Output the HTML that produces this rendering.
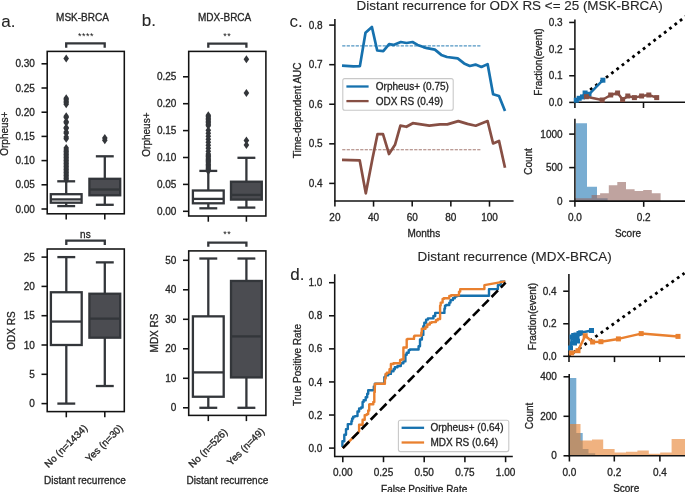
<!DOCTYPE html>
<html><head><meta charset="utf-8"><style>
html,body{margin:0;padding:0;background:#fff;overflow:hidden;}
svg{display:block;font-family:"Liberation Sans",sans-serif;will-change:transform;}
text{stroke:#262626;stroke-width:0.3px;}
</style></head><body>
<svg width="685" height="492" viewBox="0 0 685 492">
<rect width="685" height="492" fill="#fff"/>
<text x="1.30" y="27.00" font-size="17" text-anchor="start" fill="#262626" style="stroke-width:0.1px">a.</text>
<text x="141.80" y="26.40" font-size="17" text-anchor="start" fill="#262626" style="stroke-width:0.1px">b.</text>
<text x="289.60" y="27.00" font-size="17" text-anchor="start" fill="#262626" style="stroke-width:0px">c.</text>
<text x="290.20" y="279.80" font-size="17" text-anchor="start" fill="#262626" style="stroke-width:0.1px">d.</text>
<text x="82.50" y="20.80" font-size="10" text-anchor="middle" fill="#262626" >MSK-BRCA</text>
<text x="224.60" y="20.70" font-size="10" text-anchor="middle" fill="#262626" >MDX-BRCA</text>
<text x="356.60" y="9.70" font-size="13.45" text-anchor="start" fill="#262626" style="stroke-width:0.12px">Distant recurrence for ODX RS &lt;= 25 (MSK-BRCA)</text>
<text x="417.60" y="261.00" font-size="13.45" text-anchor="start" fill="#262626" style="stroke-width:0.12px">Distant recurrence (MDX-BRCA)</text>
<rect x="47.20" y="51.40" width="77.10" height="162.40" fill="none" stroke="#121212" stroke-width="1.55"/>
<line x1="41.50" y1="209.00" x2="47.20" y2="209.00" stroke="#121212" stroke-width="1.55" />
<text x="34.90" y="212.60" font-size="10" text-anchor="end" fill="#262626" >0.00</text>
<line x1="41.50" y1="184.80" x2="47.20" y2="184.80" stroke="#121212" stroke-width="1.55" />
<text x="34.90" y="188.40" font-size="10" text-anchor="end" fill="#262626" >0.05</text>
<line x1="41.50" y1="160.60" x2="47.20" y2="160.60" stroke="#121212" stroke-width="1.55" />
<text x="34.90" y="164.20" font-size="10" text-anchor="end" fill="#262626" >0.10</text>
<line x1="41.50" y1="136.40" x2="47.20" y2="136.40" stroke="#121212" stroke-width="1.55" />
<text x="34.90" y="140.00" font-size="10" text-anchor="end" fill="#262626" >0.15</text>
<line x1="41.50" y1="112.20" x2="47.20" y2="112.20" stroke="#121212" stroke-width="1.55" />
<text x="34.90" y="115.80" font-size="10" text-anchor="end" fill="#262626" >0.20</text>
<line x1="41.50" y1="88.00" x2="47.20" y2="88.00" stroke="#121212" stroke-width="1.55" />
<text x="34.90" y="91.60" font-size="10" text-anchor="end" fill="#262626" >0.25</text>
<line x1="41.50" y1="63.80" x2="47.20" y2="63.80" stroke="#121212" stroke-width="1.55" />
<text x="34.90" y="67.40" font-size="10" text-anchor="end" fill="#262626" >0.30</text>
<line x1="66.20" y1="213.80" x2="66.20" y2="219.50" stroke="#121212" stroke-width="1.55" />
<line x1="104.80" y1="213.80" x2="104.80" y2="219.50" stroke="#121212" stroke-width="1.55" />
<text transform="translate(7.90,133.70) rotate(-90)" x="0" y="0" font-size="10" text-anchor="middle" fill="#262626">Orpheus+</text>
<polygon points="66.20,54.50 69.00,58.50 66.20,62.50 63.40,58.50" fill="#33363a"/>
<polygon points="66.20,94.20 69.00,98.20 66.20,102.20 63.40,98.20" fill="#33363a"/>
<polygon points="66.20,95.70 69.00,99.70 66.20,103.70 63.40,99.70" fill="#33363a"/>
<polygon points="66.20,97.20 69.00,101.20 66.20,105.20 63.40,101.20" fill="#33363a"/>
<polygon points="66.20,98.70 69.00,102.70 66.20,106.70 63.40,102.70" fill="#33363a"/>
<polygon points="66.20,100.20 69.00,104.20 66.20,108.20 63.40,104.20" fill="#33363a"/>
<polygon points="66.20,112.20 69.00,116.20 66.20,120.20 63.40,116.20" fill="#33363a"/>
<polygon points="66.20,113.60 69.00,117.60 66.20,121.60 63.40,117.60" fill="#33363a"/>
<polygon points="66.20,117.60 69.00,121.60 66.20,125.60 63.40,121.60" fill="#33363a"/>
<polygon points="66.20,118.80 69.00,122.80 66.20,126.80 63.40,122.80" fill="#33363a"/>
<polygon points="66.20,123.40 69.00,127.40 66.20,131.40 63.40,127.40" fill="#33363a"/>
<polygon points="66.20,124.40 69.00,128.40 66.20,132.40 63.40,128.40" fill="#33363a"/>
<polygon points="66.20,128.10 69.00,132.10 66.20,136.10 63.40,132.10" fill="#33363a"/>
<polygon points="66.20,129.20 69.00,133.20 66.20,137.20 63.40,133.20" fill="#33363a"/>
<polygon points="66.20,133.00 69.00,137.00 66.20,141.00 63.40,137.00" fill="#33363a"/>
<polygon points="66.20,134.80 69.00,138.80 66.20,142.80 63.40,138.80" fill="#33363a"/>
<polygon points="66.20,144.00 69.00,148.00 66.20,152.00 63.40,148.00" fill="#33363a"/>
<polygon points="66.20,146.00 69.00,150.00 66.20,154.00 63.40,150.00" fill="#33363a"/>
<polygon points="66.20,147.50 69.00,151.50 66.20,155.50 63.40,151.50" fill="#33363a"/>
<polygon points="66.20,149.00 69.00,153.00 66.20,157.00 63.40,153.00" fill="#33363a"/>
<polygon points="66.20,150.50 69.00,154.50 66.20,158.50 63.40,154.50" fill="#33363a"/>
<polygon points="66.20,152.00 69.00,156.00 66.20,160.00 63.40,156.00" fill="#33363a"/>
<polygon points="66.20,153.50 69.00,157.50 66.20,161.50 63.40,157.50" fill="#33363a"/>
<polygon points="66.20,155.00 69.00,159.00 66.20,163.00 63.40,159.00" fill="#33363a"/>
<polygon points="66.20,156.50 69.00,160.50 66.20,164.50 63.40,160.50" fill="#33363a"/>
<polygon points="66.20,158.00 69.00,162.00 66.20,166.00 63.40,162.00" fill="#33363a"/>
<polygon points="66.20,159.50 69.00,163.50 66.20,167.50 63.40,163.50" fill="#33363a"/>
<polygon points="66.20,161.00 69.00,165.00 66.20,169.00 63.40,165.00" fill="#33363a"/>
<polygon points="66.20,162.50 69.00,166.50 66.20,170.50 63.40,166.50" fill="#33363a"/>
<polygon points="66.20,164.00 69.00,168.00 66.20,172.00 63.40,168.00" fill="#33363a"/>
<polygon points="66.20,165.50 69.00,169.50 66.20,173.50 63.40,169.50" fill="#33363a"/>
<polygon points="66.20,167.00 69.00,171.00 66.20,175.00 63.40,171.00" fill="#33363a"/>
<polygon points="66.20,168.50 69.00,172.50 66.20,176.50 63.40,172.50" fill="#33363a"/>
<polygon points="66.20,170.00 69.00,174.00 66.20,178.00 63.40,174.00" fill="#33363a"/>
<polygon points="66.20,171.50 69.00,175.50 66.20,179.50 63.40,175.50" fill="#33363a"/>
<polygon points="66.20,173.00 69.00,177.00 66.20,181.00 63.40,177.00" fill="#33363a"/>
<polygon points="66.20,174.50 69.00,178.50 66.20,182.50 63.40,178.50" fill="#33363a"/>
<polygon points="66.20,176.00 69.00,180.00 66.20,184.00 63.40,180.00" fill="#33363a"/>
<line x1="66.20" y1="202.70" x2="66.20" y2="206.10" stroke="#33363a" stroke-width="2.3" />
<line x1="66.20" y1="194.20" x2="66.20" y2="181.30" stroke="#33363a" stroke-width="2.3" />
<line x1="58.40" y1="206.10" x2="74.00" y2="206.10" stroke="#33363a" stroke-width="2.3" stroke-linecap="square"/>
<line x1="58.40" y1="181.30" x2="74.00" y2="181.30" stroke="#33363a" stroke-width="2.3" stroke-linecap="square"/>
<rect x="50.80" y="194.20" width="30.80" height="8.50" fill="#ffffff" stroke="#33363a" stroke-width="2.3"/>
<line x1="50.80" y1="199.40" x2="81.60" y2="199.40" stroke="#33363a" stroke-width="2.3" />
<polygon points="104.80,133.90 107.60,137.90 104.80,141.90 102.00,137.90" fill="#33363a"/>
<polygon points="104.80,136.30 107.60,140.30 104.80,144.30 102.00,140.30" fill="#33363a"/>
<line x1="104.80" y1="195.30" x2="104.80" y2="204.80" stroke="#33363a" stroke-width="2.3" />
<line x1="104.80" y1="178.80" x2="104.80" y2="156.30" stroke="#33363a" stroke-width="2.3" />
<line x1="97.00" y1="204.80" x2="112.60" y2="204.80" stroke="#33363a" stroke-width="2.3" stroke-linecap="square"/>
<line x1="97.00" y1="156.30" x2="112.60" y2="156.30" stroke="#33363a" stroke-width="2.3" stroke-linecap="square"/>
<rect x="89.40" y="178.80" width="30.80" height="16.50" fill="#4b4c51" stroke="#33363a" stroke-width="2.3"/>
<line x1="89.40" y1="189.50" x2="120.20" y2="189.50" stroke="#33363a" stroke-width="2.3" />
<text x="86.00" y="38.60" font-size="9" text-anchor="middle" fill="#111" style="stroke:none;letter-spacing:0.55px">****</text>
<polyline points="66.2,47.8 66.2,43.4 104.7,43.4 104.7,47.8" fill="none" stroke="#33363a" stroke-width="2.3"/>
<rect x="47.20" y="249.00" width="77.10" height="162.60" fill="none" stroke="#121212" stroke-width="1.55"/>
<line x1="41.50" y1="403.60" x2="47.20" y2="403.60" stroke="#121212" stroke-width="1.55" />
<text x="34.90" y="407.20" font-size="10" text-anchor="end" fill="#262626" >0</text>
<line x1="41.50" y1="374.30" x2="47.20" y2="374.30" stroke="#121212" stroke-width="1.55" />
<text x="34.90" y="377.90" font-size="10" text-anchor="end" fill="#262626" >5</text>
<line x1="41.50" y1="345.00" x2="47.20" y2="345.00" stroke="#121212" stroke-width="1.55" />
<text x="34.90" y="348.60" font-size="10" text-anchor="end" fill="#262626" >10</text>
<line x1="41.50" y1="315.70" x2="47.20" y2="315.70" stroke="#121212" stroke-width="1.55" />
<text x="34.90" y="319.30" font-size="10" text-anchor="end" fill="#262626" >15</text>
<line x1="41.50" y1="286.40" x2="47.20" y2="286.40" stroke="#121212" stroke-width="1.55" />
<text x="34.90" y="290.00" font-size="10" text-anchor="end" fill="#262626" >20</text>
<line x1="41.50" y1="257.10" x2="47.20" y2="257.10" stroke="#121212" stroke-width="1.55" />
<text x="34.90" y="260.70" font-size="10" text-anchor="end" fill="#262626" >25</text>
<line x1="66.30" y1="411.60" x2="66.30" y2="417.30" stroke="#121212" stroke-width="1.55" />
<line x1="104.80" y1="411.60" x2="104.80" y2="417.30" stroke="#121212" stroke-width="1.55" />
<text transform="translate(15.20,330.50) rotate(-90)" x="0" y="0" font-size="10" text-anchor="middle" fill="#262626">ODX RS</text>
<line x1="66.30" y1="345.00" x2="66.30" y2="403.60" stroke="#33363a" stroke-width="2.3" />
<line x1="66.30" y1="292.26" x2="66.30" y2="257.10" stroke="#33363a" stroke-width="2.3" />
<line x1="58.50" y1="403.60" x2="74.10" y2="403.60" stroke="#33363a" stroke-width="2.3" stroke-linecap="square"/>
<line x1="58.50" y1="257.10" x2="74.10" y2="257.10" stroke="#33363a" stroke-width="2.3" stroke-linecap="square"/>
<rect x="50.90" y="292.26" width="30.80" height="52.74" fill="#ffffff" stroke="#33363a" stroke-width="2.3"/>
<line x1="50.90" y1="321.56" x2="81.70" y2="321.56" stroke="#33363a" stroke-width="2.3" />
<line x1="104.80" y1="337.68" x2="104.80" y2="386.02" stroke="#33363a" stroke-width="2.3" />
<line x1="104.80" y1="293.73" x2="104.80" y2="262.37" stroke="#33363a" stroke-width="2.3" />
<line x1="97.00" y1="386.02" x2="112.60" y2="386.02" stroke="#33363a" stroke-width="2.3" stroke-linecap="square"/>
<line x1="97.00" y1="262.37" x2="112.60" y2="262.37" stroke="#33363a" stroke-width="2.3" stroke-linecap="square"/>
<rect x="89.40" y="293.73" width="30.80" height="43.95" fill="#4b4c51" stroke="#33363a" stroke-width="2.3"/>
<line x1="89.40" y1="318.63" x2="120.20" y2="318.63" stroke="#33363a" stroke-width="2.3" />
<text x="85.40" y="238.00" font-size="10" text-anchor="middle" fill="#262626" >ns</text>
<polyline points="66.3,245.0 66.3,240.6 104.8,240.6 104.8,245.0" fill="none" stroke="#33363a" stroke-width="2.3"/>
<text transform="translate(65.90,446.00) rotate(-45)" x="0" y="3.50" font-size="10" text-anchor="middle" fill="#262626">No (n=1434)</text>
<text transform="translate(104.10,443.20) rotate(-45)" x="0" y="3.50" font-size="10" text-anchor="middle" fill="#262626">Yes (n=30)</text>
<text x="84.90" y="483.80" font-size="10" text-anchor="middle" fill="#262626" >Distant recurrence</text>
<rect x="188.70" y="51.40" width="77.20" height="164.60" fill="none" stroke="#121212" stroke-width="1.55"/>
<line x1="183.00" y1="211.30" x2="188.70" y2="211.30" stroke="#121212" stroke-width="1.55" />
<text x="176.40" y="214.90" font-size="10" text-anchor="end" fill="#262626" >0.00</text>
<line x1="183.00" y1="184.40" x2="188.70" y2="184.40" stroke="#121212" stroke-width="1.55" />
<text x="176.40" y="188.00" font-size="10" text-anchor="end" fill="#262626" >0.05</text>
<line x1="183.00" y1="157.50" x2="188.70" y2="157.50" stroke="#121212" stroke-width="1.55" />
<text x="176.40" y="161.10" font-size="10" text-anchor="end" fill="#262626" >0.10</text>
<line x1="183.00" y1="130.60" x2="188.70" y2="130.60" stroke="#121212" stroke-width="1.55" />
<text x="176.40" y="134.20" font-size="10" text-anchor="end" fill="#262626" >0.15</text>
<line x1="183.00" y1="103.70" x2="188.70" y2="103.70" stroke="#121212" stroke-width="1.55" />
<text x="176.40" y="107.30" font-size="10" text-anchor="end" fill="#262626" >0.20</text>
<line x1="183.00" y1="76.80" x2="188.70" y2="76.80" stroke="#121212" stroke-width="1.55" />
<text x="176.40" y="80.40" font-size="10" text-anchor="end" fill="#262626" >0.25</text>
<line x1="208.30" y1="216.00" x2="208.30" y2="221.70" stroke="#121212" stroke-width="1.55" />
<line x1="246.40" y1="216.00" x2="246.40" y2="221.70" stroke="#121212" stroke-width="1.55" />
<text transform="translate(149.60,134.60) rotate(-90)" x="0" y="0" font-size="10" text-anchor="middle" fill="#262626">Orpheus+</text>
<polygon points="208.30,111.20 211.10,115.20 208.30,119.20 205.50,115.20" fill="#33363a"/>
<polygon points="208.30,112.70 211.10,116.70 208.30,120.70 205.50,116.70" fill="#33363a"/>
<polygon points="208.30,114.20 211.10,118.20 208.30,122.20 205.50,118.20" fill="#33363a"/>
<polygon points="208.30,115.70 211.10,119.70 208.30,123.70 205.50,119.70" fill="#33363a"/>
<polygon points="208.30,117.20 211.10,121.20 208.30,125.20 205.50,121.20" fill="#33363a"/>
<polygon points="208.30,118.70 211.10,122.70 208.30,126.70 205.50,122.70" fill="#33363a"/>
<polygon points="208.30,120.20 211.10,124.20 208.30,128.20 205.50,124.20" fill="#33363a"/>
<polygon points="208.30,121.70 211.10,125.70 208.30,129.70 205.50,125.70" fill="#33363a"/>
<polygon points="208.30,126.20 211.10,130.20 208.30,134.20 205.50,130.20" fill="#33363a"/>
<polygon points="208.30,129.20 211.10,133.20 208.30,137.20 205.50,133.20" fill="#33363a"/>
<polygon points="208.30,132.20 211.10,136.20 208.30,140.20 205.50,136.20" fill="#33363a"/>
<polygon points="208.30,135.20 211.10,139.20 208.30,143.20 205.50,139.20" fill="#33363a"/>
<polygon points="208.30,138.20 211.10,142.20 208.30,146.20 205.50,142.20" fill="#33363a"/>
<polygon points="208.30,141.20 211.10,145.20 208.30,149.20 205.50,145.20" fill="#33363a"/>
<polygon points="208.30,144.20 211.10,148.20 208.30,152.20 205.50,148.20" fill="#33363a"/>
<polygon points="208.30,147.20 211.10,151.20 208.30,155.20 205.50,151.20" fill="#33363a"/>
<polygon points="208.30,150.00 211.10,154.00 208.30,158.00 205.50,154.00" fill="#33363a"/>
<polygon points="208.30,151.30 211.10,155.30 208.30,159.30 205.50,155.30" fill="#33363a"/>
<polygon points="208.30,152.60 211.10,156.60 208.30,160.60 205.50,156.60" fill="#33363a"/>
<polygon points="208.30,153.90 211.10,157.90 208.30,161.90 205.50,157.90" fill="#33363a"/>
<polygon points="208.30,155.20 211.10,159.20 208.30,163.20 205.50,159.20" fill="#33363a"/>
<polygon points="208.30,156.50 211.10,160.50 208.30,164.50 205.50,160.50" fill="#33363a"/>
<polygon points="208.30,157.80 211.10,161.80 208.30,165.80 205.50,161.80" fill="#33363a"/>
<polygon points="208.30,159.10 211.10,163.10 208.30,167.10 205.50,163.10" fill="#33363a"/>
<polygon points="208.30,160.40 211.10,164.40 208.30,168.40 205.50,164.40" fill="#33363a"/>
<polygon points="208.30,161.70 211.10,165.70 208.30,169.70 205.50,165.70" fill="#33363a"/>
<polygon points="208.30,163.00 211.10,167.00 208.30,171.00 205.50,167.00" fill="#33363a"/>
<polygon points="208.30,164.30 211.10,168.30 208.30,172.30 205.50,168.30" fill="#33363a"/>
<polygon points="208.30,165.60 211.10,169.60 208.30,173.60 205.50,169.60" fill="#33363a"/>
<polygon points="208.30,166.90 211.10,170.90 208.30,174.90 205.50,170.90" fill="#33363a"/>
<line x1="208.30" y1="203.30" x2="208.30" y2="208.30" stroke="#33363a" stroke-width="2.3" />
<line x1="208.30" y1="190.50" x2="208.30" y2="170.90" stroke="#33363a" stroke-width="2.3" />
<line x1="200.50" y1="208.30" x2="216.10" y2="208.30" stroke="#33363a" stroke-width="2.3" stroke-linecap="square"/>
<line x1="200.50" y1="170.90" x2="216.10" y2="170.90" stroke="#33363a" stroke-width="2.3" stroke-linecap="square"/>
<rect x="192.90" y="190.50" width="30.80" height="12.80" fill="#ffffff" stroke="#33363a" stroke-width="2.3"/>
<line x1="192.90" y1="198.90" x2="223.70" y2="198.90" stroke="#33363a" stroke-width="2.3" />
<polygon points="246.40,136.50 249.20,140.50 246.40,144.50 243.60,140.50" fill="#33363a"/>
<polygon points="246.40,141.00 249.20,145.00 246.40,149.00 243.60,145.00" fill="#33363a"/>
<polygon points="246.40,55.30 249.20,59.30 246.40,63.30 243.60,59.30" fill="#33363a"/>
<polygon points="246.40,88.90 249.20,92.90 246.40,96.90 243.60,92.90" fill="#33363a"/>
<line x1="246.40" y1="199.60" x2="246.40" y2="207.60" stroke="#33363a" stroke-width="2.3" />
<line x1="246.40" y1="181.70" x2="246.40" y2="157.80" stroke="#33363a" stroke-width="2.3" />
<line x1="238.60" y1="207.60" x2="254.20" y2="207.60" stroke="#33363a" stroke-width="2.3" stroke-linecap="square"/>
<line x1="238.60" y1="157.80" x2="254.20" y2="157.80" stroke="#33363a" stroke-width="2.3" stroke-linecap="square"/>
<rect x="231.00" y="181.70" width="30.80" height="17.90" fill="#4b4c51" stroke="#33363a" stroke-width="2.3"/>
<line x1="231.00" y1="194.90" x2="261.80" y2="194.90" stroke="#33363a" stroke-width="2.3" />
<text x="227.20" y="38.60" font-size="9" text-anchor="middle" fill="#111" style="stroke:none;letter-spacing:0.55px">**</text>
<polyline points="208.3,47.8 208.3,43.6 246.4,43.6 246.4,47.8" fill="none" stroke="#33363a" stroke-width="2.3"/>
<rect x="188.70" y="250.90" width="77.20" height="164.50" fill="none" stroke="#121212" stroke-width="1.55"/>
<line x1="183.00" y1="407.80" x2="188.70" y2="407.80" stroke="#121212" stroke-width="1.55" />
<text x="176.40" y="411.40" font-size="10" text-anchor="end" fill="#262626" >0</text>
<line x1="183.00" y1="378.30" x2="188.70" y2="378.30" stroke="#121212" stroke-width="1.55" />
<text x="176.40" y="381.90" font-size="10" text-anchor="end" fill="#262626" >10</text>
<line x1="183.00" y1="348.80" x2="188.70" y2="348.80" stroke="#121212" stroke-width="1.55" />
<text x="176.40" y="352.40" font-size="10" text-anchor="end" fill="#262626" >20</text>
<line x1="183.00" y1="319.30" x2="188.70" y2="319.30" stroke="#121212" stroke-width="1.55" />
<text x="176.40" y="322.90" font-size="10" text-anchor="end" fill="#262626" >30</text>
<line x1="183.00" y1="289.80" x2="188.70" y2="289.80" stroke="#121212" stroke-width="1.55" />
<text x="176.40" y="293.40" font-size="10" text-anchor="end" fill="#262626" >40</text>
<line x1="183.00" y1="260.30" x2="188.70" y2="260.30" stroke="#121212" stroke-width="1.55" />
<text x="176.40" y="263.90" font-size="10" text-anchor="end" fill="#262626" >50</text>
<line x1="208.30" y1="415.40" x2="208.30" y2="421.10" stroke="#121212" stroke-width="1.55" />
<line x1="246.40" y1="415.40" x2="246.40" y2="421.10" stroke="#121212" stroke-width="1.55" />
<text transform="translate(157.50,333.00) rotate(-90)" x="0" y="0" font-size="10" text-anchor="middle" fill="#262626">MDX RS</text>
<line x1="208.30" y1="396.74" x2="208.30" y2="407.80" stroke="#33363a" stroke-width="2.3" />
<line x1="208.30" y1="316.35" x2="208.30" y2="258.53" stroke="#33363a" stroke-width="2.3" />
<line x1="200.50" y1="407.80" x2="216.10" y2="407.80" stroke="#33363a" stroke-width="2.3" stroke-linecap="square"/>
<line x1="200.50" y1="258.53" x2="216.10" y2="258.53" stroke="#33363a" stroke-width="2.3" stroke-linecap="square"/>
<rect x="192.90" y="316.35" width="30.80" height="80.39" fill="#ffffff" stroke="#33363a" stroke-width="2.3"/>
<line x1="192.90" y1="372.40" x2="223.70" y2="372.40" stroke="#33363a" stroke-width="2.3" />
<line x1="246.40" y1="377.42" x2="246.40" y2="407.80" stroke="#33363a" stroke-width="2.3" />
<line x1="246.40" y1="280.95" x2="246.40" y2="258.53" stroke="#33363a" stroke-width="2.3" />
<line x1="238.60" y1="407.80" x2="254.20" y2="407.80" stroke="#33363a" stroke-width="2.3" stroke-linecap="square"/>
<line x1="238.60" y1="258.53" x2="254.20" y2="258.53" stroke="#33363a" stroke-width="2.3" stroke-linecap="square"/>
<rect x="231.00" y="280.95" width="30.80" height="96.47" fill="#4b4c51" stroke="#33363a" stroke-width="2.3"/>
<line x1="231.00" y1="336.41" x2="261.80" y2="336.41" stroke="#33363a" stroke-width="2.3" />
<text x="227.20" y="237.20" font-size="9" text-anchor="middle" fill="#111" style="stroke:none;letter-spacing:0.55px">**</text>
<polyline points="208.3,246.8 208.3,242.6 246.4,242.6 246.4,246.8" fill="none" stroke="#33363a" stroke-width="2.3"/>
<text transform="translate(207.90,448.00) rotate(-45)" x="0" y="3.50" font-size="10" text-anchor="middle" fill="#262626">No (n=526)</text>
<text transform="translate(245.50,446.60) rotate(-45)" x="0" y="3.50" font-size="10" text-anchor="middle" fill="#262626">Yes (n=49)</text>
<text x="227.40" y="483.80" font-size="10" text-anchor="middle" fill="#262626" >Distant recurrence</text>
<line x1="334.90" y1="19.00" x2="334.90" y2="201.20" stroke="#121212" stroke-width="1.55" />
<line x1="334.30" y1="200.90" x2="513.60" y2="200.90" stroke="#121212" stroke-width="1.55" />
<line x1="329.20" y1="183.40" x2="334.90" y2="183.40" stroke="#121212" stroke-width="1.55" />
<text x="322.60" y="187.00" font-size="10" text-anchor="end" fill="#262626" >0.4</text>
<line x1="329.20" y1="143.83" x2="334.90" y2="143.83" stroke="#121212" stroke-width="1.55" />
<text x="322.60" y="147.43" font-size="10" text-anchor="end" fill="#262626" >0.5</text>
<line x1="329.20" y1="104.25" x2="334.90" y2="104.25" stroke="#121212" stroke-width="1.55" />
<text x="322.60" y="107.85" font-size="10" text-anchor="end" fill="#262626" >0.6</text>
<line x1="329.20" y1="64.68" x2="334.90" y2="64.68" stroke="#121212" stroke-width="1.55" />
<text x="322.60" y="68.28" font-size="10" text-anchor="end" fill="#262626" >0.7</text>
<line x1="329.20" y1="25.10" x2="334.90" y2="25.10" stroke="#121212" stroke-width="1.55" />
<text x="322.60" y="28.70" font-size="10" text-anchor="end" fill="#262626" >0.8</text>
<line x1="334.90" y1="200.90" x2="334.90" y2="206.60" stroke="#121212" stroke-width="1.55" />
<text x="334.90" y="220.80" font-size="10" text-anchor="middle" fill="#262626" >20</text>
<line x1="373.55" y1="200.90" x2="373.55" y2="206.60" stroke="#121212" stroke-width="1.55" />
<text x="373.55" y="220.80" font-size="10" text-anchor="middle" fill="#262626" >40</text>
<line x1="412.20" y1="200.90" x2="412.20" y2="206.60" stroke="#121212" stroke-width="1.55" />
<text x="412.20" y="220.80" font-size="10" text-anchor="middle" fill="#262626" >60</text>
<line x1="450.85" y1="200.90" x2="450.85" y2="206.60" stroke="#121212" stroke-width="1.55" />
<text x="450.85" y="220.80" font-size="10" text-anchor="middle" fill="#262626" >80</text>
<line x1="489.50" y1="200.90" x2="489.50" y2="206.60" stroke="#121212" stroke-width="1.55" />
<text x="489.50" y="220.80" font-size="10" text-anchor="middle" fill="#262626" >100</text>
<text transform="translate(300.60,110.40) rotate(-90)" x="0" y="0" font-size="10" text-anchor="middle" fill="#262626">Time-dependent AUC</text>
<text x="423.80" y="236.70" font-size="10" text-anchor="middle" fill="#262626" >Months</text>
<line x1="342.20" y1="45.90" x2="481.70" y2="45.90" stroke="#1671ae" stroke-width="1.1" stroke-dasharray="3.2 1.3" stroke-opacity="0.75"/>
<line x1="342.20" y1="149.70" x2="481.70" y2="149.70" stroke="#874f44" stroke-width="1.1" stroke-dasharray="3.2 1.3" stroke-opacity="0.75"/>
<polyline points="342.00,65.70 353.40,66.40 359.90,66.10 365.50,32.80 371.90,27.00 377.20,50.50 383.30,51.20 389.10,44.20 393.50,44.90 400.80,42.00 406.60,43.00 412.50,42.00 417.60,44.90 423.40,47.10 427.10,48.20 434.90,49.60 441.30,54.90 447.00,57.00 457.70,58.40 464.10,63.40 469.80,66.00 475.50,64.60 481.40,67.00 487.60,64.10 493.10,94.20 499.00,96.00 505.00,111.00" fill="none" stroke="#1671ae" stroke-width="2.7" stroke-linejoin="round" />
<polyline points="342.00,159.80 359.70,160.30 365.80,193.30 372.50,158.50 377.50,134.20 383.00,134.20 389.00,154.00 395.00,144.80 400.40,125.60 406.40,126.80 412.80,123.20 429.30,125.60 440.00,124.40 447.30,124.40 458.30,121.10 467.50,123.90 475.70,125.70 487.60,121.10 493.10,143.50 499.00,140.90 505.00,167.80" fill="none" stroke="#874f44" stroke-width="2.7" stroke-linejoin="round" />
<rect x="342.8" y="78.6" width="110.4" height="31.6" rx="2" fill="#ffffff" fill-opacity="0.8" stroke="#c8c8c8" stroke-width="1.1"/>
<line x1="346.40" y1="86.50" x2="368.60" y2="86.50" stroke="#1671ae" stroke-width="2.3" />
<line x1="346.40" y1="101.10" x2="368.60" y2="101.10" stroke="#874f44" stroke-width="2.3" />
<text x="375.80" y="90.00" font-size="10" text-anchor="start" fill="#262626" >Orpheus+ (0.75)</text>
<text x="375.80" y="104.90" font-size="10" text-anchor="start" fill="#262626" >ODX RS (0.49)</text>
<line x1="574.90" y1="19.50" x2="574.90" y2="102.90" stroke="#121212" stroke-width="1.55" />
<line x1="574.30" y1="102.30" x2="685.00" y2="102.30" stroke="#121212" stroke-width="1.55" />
<line x1="569.20" y1="102.40" x2="574.90" y2="102.40" stroke="#121212" stroke-width="1.55" />
<text x="562.60" y="106.00" font-size="10" text-anchor="end" fill="#262626" >0.0</text>
<line x1="569.20" y1="75.75" x2="574.90" y2="75.75" stroke="#121212" stroke-width="1.55" />
<text x="562.60" y="79.35" font-size="10" text-anchor="end" fill="#262626" >0.1</text>
<line x1="569.20" y1="49.10" x2="574.90" y2="49.10" stroke="#121212" stroke-width="1.55" />
<text x="562.60" y="52.70" font-size="10" text-anchor="end" fill="#262626" >0.2</text>
<line x1="569.20" y1="22.45" x2="574.90" y2="22.45" stroke="#121212" stroke-width="1.55" />
<text x="562.60" y="26.05" font-size="10" text-anchor="end" fill="#262626" >0.3</text>
<line x1="574.90" y1="102.30" x2="574.90" y2="108.00" stroke="#121212" stroke-width="1.55" />
<line x1="643.50" y1="102.30" x2="643.50" y2="108.00" stroke="#121212" stroke-width="1.55" />
<text transform="translate(541.80,62.10) rotate(-90)" x="0" y="0" font-size="10" text-anchor="middle" fill="#262626">Fraction(event)</text>
<line x1="574.9" y1="101.6" x2="690" y2="13.09" stroke="#000" stroke-width="2.8" stroke-dasharray="2.8 3.86" stroke-dashoffset="0.74"/>
<polyline points="576.30,100.20 579.20,98.30 582.50,96.90 585.10,93.00 589.00,94.30 602.90,80.20" fill="none" stroke="#1671ae" stroke-width="2.5" stroke-linejoin="round" />
<rect x="573.80" y="97.70" width="5.00" height="5.00" fill="#1671ae" />
<rect x="576.70" y="95.80" width="5.00" height="5.00" fill="#1671ae" />
<rect x="580.00" y="94.40" width="5.00" height="5.00" fill="#1671ae" />
<rect x="582.60" y="90.50" width="5.00" height="5.00" fill="#1671ae" />
<rect x="586.50" y="91.80" width="5.00" height="5.00" fill="#1671ae" />
<rect x="600.40" y="77.70" width="5.00" height="5.00" fill="#1671ae" />
<polyline points="586.40,96.70 602.20,100.00 610.70,95.00 617.60,93.00 622.60,99.60 627.80,96.00 634.40,97.60 641.60,96.00 648.80,95.00 656.70,97.60" fill="none" stroke="#874f44" stroke-width="2.5" stroke-linejoin="round" />
<rect x="583.90" y="94.20" width="5.00" height="5.00" fill="#874f44" />
<rect x="599.70" y="97.50" width="5.00" height="5.00" fill="#874f44" />
<rect x="608.20" y="92.50" width="5.00" height="5.00" fill="#874f44" />
<rect x="615.10" y="90.50" width="5.00" height="5.00" fill="#874f44" />
<rect x="620.10" y="97.10" width="5.00" height="5.00" fill="#874f44" />
<rect x="625.30" y="93.50" width="5.00" height="5.00" fill="#874f44" />
<rect x="631.90" y="95.10" width="5.00" height="5.00" fill="#874f44" />
<rect x="639.10" y="93.50" width="5.00" height="5.00" fill="#874f44" />
<rect x="646.30" y="92.50" width="5.00" height="5.00" fill="#874f44" />
<rect x="654.20" y="95.10" width="5.00" height="5.00" fill="#874f44" />
<polygon points="576.00,201.10 576.00,123.20 587.00,123.20 587.00,186.70 597.00,186.70 597.00,198.20 607.60,198.20 607.60,201.10" fill="#1f77b4" fill-opacity="0.6"/>
<polygon points="574.90,201.10 574.90,198.20 583.30,198.20 583.30,198.20 591.60,198.20 591.60,195.10 600.10,195.10 600.10,193.20 608.80,193.20 608.80,185.20 617.30,185.20 617.30,182.10 626.00,182.10 626.00,189.30 634.60,189.30 634.60,190.90 643.20,190.90 643.20,189.90 651.80,189.90 651.80,193.30 660.60,193.30 660.60,201.10" fill="#94665f" fill-opacity="0.6"/>
<line x1="574.90" y1="118.70" x2="574.90" y2="201.70" stroke="#121212" stroke-width="1.55" />
<line x1="574.30" y1="201.10" x2="685.00" y2="201.10" stroke="#121212" stroke-width="1.55" />
<line x1="569.20" y1="201.10" x2="574.90" y2="201.10" stroke="#121212" stroke-width="1.55" />
<text x="562.60" y="204.70" font-size="10" text-anchor="end" fill="#262626" >0</text>
<line x1="569.20" y1="167.60" x2="574.90" y2="167.60" stroke="#121212" stroke-width="1.55" />
<text x="562.60" y="171.20" font-size="10" text-anchor="end" fill="#262626" >500</text>
<line x1="569.20" y1="134.10" x2="574.90" y2="134.10" stroke="#121212" stroke-width="1.55" />
<text x="562.60" y="137.70" font-size="10" text-anchor="end" fill="#262626" >1000</text>
<line x1="574.90" y1="201.10" x2="574.90" y2="206.80" stroke="#121212" stroke-width="1.55" />
<text x="574.90" y="221.00" font-size="10" text-anchor="middle" fill="#262626" >0.0</text>
<line x1="643.70" y1="201.10" x2="643.70" y2="206.80" stroke="#121212" stroke-width="1.55" />
<text x="643.70" y="221.00" font-size="10" text-anchor="middle" fill="#262626" >0.2</text>
<text transform="translate(532.30,161.50) rotate(-90)" x="0" y="0" font-size="10" text-anchor="middle" fill="#262626">Count</text>
<text x="628.00" y="236.70" font-size="10" text-anchor="middle" fill="#262626" >Score</text>
<line x1="334.70" y1="274.20" x2="334.70" y2="457.10" stroke="#121212" stroke-width="1.55" />
<line x1="334.10" y1="456.50" x2="512.80" y2="456.50" stroke="#121212" stroke-width="1.55" />
<line x1="329.00" y1="448.10" x2="334.70" y2="448.10" stroke="#121212" stroke-width="1.55" />
<text x="322.40" y="451.70" font-size="10" text-anchor="end" fill="#262626" >0.0</text>
<line x1="329.00" y1="415.02" x2="334.70" y2="415.02" stroke="#121212" stroke-width="1.55" />
<text x="322.40" y="418.62" font-size="10" text-anchor="end" fill="#262626" >0.2</text>
<line x1="329.00" y1="381.94" x2="334.70" y2="381.94" stroke="#121212" stroke-width="1.55" />
<text x="322.40" y="385.54" font-size="10" text-anchor="end" fill="#262626" >0.4</text>
<line x1="329.00" y1="348.86" x2="334.70" y2="348.86" stroke="#121212" stroke-width="1.55" />
<text x="322.40" y="352.46" font-size="10" text-anchor="end" fill="#262626" >0.6</text>
<line x1="329.00" y1="315.78" x2="334.70" y2="315.78" stroke="#121212" stroke-width="1.55" />
<text x="322.40" y="319.38" font-size="10" text-anchor="end" fill="#262626" >0.8</text>
<line x1="329.00" y1="282.70" x2="334.70" y2="282.70" stroke="#121212" stroke-width="1.55" />
<text x="322.40" y="286.30" font-size="10" text-anchor="end" fill="#262626" >1.0</text>
<line x1="342.80" y1="456.50" x2="342.80" y2="462.20" stroke="#121212" stroke-width="1.55" />
<text x="342.80" y="476.40" font-size="10" text-anchor="middle" fill="#262626" >0.00</text>
<line x1="383.50" y1="456.50" x2="383.50" y2="462.20" stroke="#121212" stroke-width="1.55" />
<text x="383.50" y="476.40" font-size="10" text-anchor="middle" fill="#262626" >0.25</text>
<line x1="424.20" y1="456.50" x2="424.20" y2="462.20" stroke="#121212" stroke-width="1.55" />
<text x="424.20" y="476.40" font-size="10" text-anchor="middle" fill="#262626" >0.50</text>
<line x1="464.90" y1="456.50" x2="464.90" y2="462.20" stroke="#121212" stroke-width="1.55" />
<text x="464.90" y="476.40" font-size="10" text-anchor="middle" fill="#262626" >0.75</text>
<line x1="505.60" y1="456.50" x2="505.60" y2="462.20" stroke="#121212" stroke-width="1.55" />
<text x="505.60" y="476.40" font-size="10" text-anchor="middle" fill="#262626" >1.00</text>
<text transform="translate(300.60,365.00) rotate(-90)" x="0" y="0" font-size="10" text-anchor="middle" fill="#262626">True Positive Rate</text>
<text x="424.20" y="492.50" font-size="10" text-anchor="middle" fill="#262626" >False Positive Rate</text>
<polyline points="342.40,446.90 342.40,441.20 344.30,441.20 344.30,434.80 346.00,434.80 346.00,432.70 346.00,429.10 347.80,429.10 347.80,424.10 349.30,424.10 351.40,424.10 351.40,421.30 352.10,421.30 352.10,418.50 353.20,418.50 353.20,416.60 355.00,416.60 355.00,416.10 357.50,416.10 357.50,411.50 359.10,411.50 359.10,408.50 361.10,408.50 361.10,407.50 362.60,407.50 362.60,401.90 363.60,401.90 363.60,400.30 365.70,400.30 365.70,397.30 367.20,397.30 367.20,393.70 368.20,393.70 368.20,390.20 369.20,390.20 373.80,390.20 373.80,386.40 374.90,386.40 374.90,383.60 375.90,383.60 384.30,383.60 384.30,377.20 385.60,377.20 385.60,375.20 388.20,375.20 388.20,373.90 390.90,373.90 390.90,371.30 393.50,371.30 393.50,369.30 394.80,369.30 394.80,367.30 397.50,367.30 397.50,366.00 400.80,366.00 400.80,363.30 403.40,363.30 403.40,361.40 405.40,361.40 405.40,354.70 406.70,354.70 406.70,352.80 408.70,352.80 408.70,350.10 410.00,350.10 410.00,349.50 418.60,349.50 418.60,346.20 420.00,346.20 420.00,339.50 421.90,339.50 421.90,334.90 423.30,334.90 423.30,326.30 424.30,326.30 424.30,322.70 426.10,322.70 426.10,319.60 427.90,319.60 427.90,318.40 433.40,318.40 433.40,316.00 435.20,316.00 435.20,312.90 439.50,312.90 444.40,312.90 444.40,308.70 445.00,308.70 445.00,305.60 446.20,305.60 446.20,305.00 449.30,305.00 449.30,302.60 450.50,302.60 450.50,300.10 452.90,300.10 452.90,298.30 454.80,298.30 454.80,296.50 456.60,296.50 456.60,295.80 460.20,295.80 489.00,295.80 489.00,289.10 497.90,289.10 497.90,285.70 497.90,285.10 500.70,285.10 500.70,281.70 501.90,281.70 501.90,281.60 505.30,281.60" fill="none" stroke="#1671ae" stroke-width="2.4" stroke-linejoin="round" stroke-linejoin="miter"/>
<polyline points="342.80,448.10 345.00,445.80 347.00,443.80 349.00,441.70 351.00,439.70 353.00,437.60 355.00,435.50 357.00,433.50 359.10,431.50 359.10,428.80 359.10,424.70 362.60,424.70 362.60,419.70 364.70,419.70 364.70,415.10 366.70,415.10 366.70,414.10 368.20,414.10 368.20,410.50 369.20,410.50 369.20,404.40 369.70,404.40 369.70,404.20 373.30,404.20 373.30,401.90 374.30,401.90 374.30,392.20 374.80,392.20 374.80,384.10 375.80,384.10 375.80,383.80 384.90,383.80 384.90,378.50 385.60,378.50 385.60,373.90 386.90,373.90 386.90,372.60 389.50,372.60 389.50,369.30 390.90,369.30 390.90,364.00 393.50,364.00 393.50,363.30 400.10,363.30 400.10,360.00 401.40,360.00 401.40,359.40 403.40,359.40 403.40,347.50 406.70,347.50 406.70,339.50 407.40,339.50 407.40,338.90 414.00,338.90 414.00,336.20 414.70,336.20 414.70,335.60 421.30,335.60 421.30,332.40 421.80,332.40 421.80,328.80 425.50,328.80 425.50,327.00 427.30,327.00 427.30,324.50 429.80,324.50 429.80,322.70 431.60,322.70 431.60,322.10 435.90,322.10 435.90,320.20 437.70,320.20 437.70,319.00 440.10,319.00 440.10,305.60 440.70,305.60 440.70,302.60 442.60,302.60 442.60,298.90 443.80,298.90 443.80,298.30 449.30,298.30 449.30,295.90 451.10,295.90 451.10,295.20 459.00,295.20 459.00,291.60 460.20,291.60 460.20,289.10 460.90,289.10 484.40,289.10 484.40,285.10 505.30,281.40" fill="none" stroke="#e9802f" stroke-width="2.4" stroke-linejoin="round" stroke-linejoin="miter"/>
<line x1="342.80" y1="448.10" x2="505.60" y2="282.70" stroke="#000" stroke-width="2.6" stroke-dasharray="9.25 4"/>
<rect x="398.4" y="420.3" width="110.4" height="31.3" rx="2" fill="#ffffff" fill-opacity="0.8" stroke="#c8c8c8" stroke-width="1.1"/>
<line x1="401.60" y1="427.80" x2="424.10" y2="427.80" stroke="#1671ae" stroke-width="2.3" />
<line x1="401.60" y1="442.50" x2="424.10" y2="442.50" stroke="#e9802f" stroke-width="2.3" />
<text x="430.40" y="431.30" font-size="10" text-anchor="start" fill="#262626" >Orpheus+ (0.64)</text>
<text x="430.40" y="445.90" font-size="10" text-anchor="start" fill="#262626" >MDX RS (0.64)</text>
<line x1="568.90" y1="274.00" x2="568.90" y2="356.90" stroke="#121212" stroke-width="1.55" />
<line x1="568.30" y1="356.40" x2="685.00" y2="356.40" stroke="#121212" stroke-width="1.55" />
<line x1="563.20" y1="356.30" x2="568.90" y2="356.30" stroke="#121212" stroke-width="1.55" />
<text x="556.60" y="359.90" font-size="10" text-anchor="end" fill="#262626" >0.0</text>
<line x1="563.20" y1="323.75" x2="568.90" y2="323.75" stroke="#121212" stroke-width="1.55" />
<text x="556.60" y="327.35" font-size="10" text-anchor="end" fill="#262626" >0.2</text>
<line x1="563.20" y1="291.20" x2="568.90" y2="291.20" stroke="#121212" stroke-width="1.55" />
<text x="556.60" y="294.80" font-size="10" text-anchor="end" fill="#262626" >0.4</text>
<line x1="569.00" y1="356.40" x2="569.00" y2="362.10" stroke="#121212" stroke-width="1.55" />
<line x1="614.50" y1="356.40" x2="614.50" y2="362.10" stroke="#121212" stroke-width="1.55" />
<line x1="659.80" y1="356.40" x2="659.80" y2="362.10" stroke="#121212" stroke-width="1.55" />
<text transform="translate(535.60,316.60) rotate(-90)" x="0" y="0" font-size="10" text-anchor="middle" fill="#262626">Fraction(event)</text>
<line x1="569" y1="355.8" x2="684.5" y2="273.10" stroke="#000" stroke-width="2.8" stroke-dasharray="2.8 3.9" stroke-dashoffset="1.13"/>
<polyline points="570.50,348.00 572.00,337.00 573.70,335.50 574.50,343.00 576.00,335.00 577.50,341.00 579.00,333.50 580.70,332.80 591.50,330.50" fill="none" stroke="#1671ae" stroke-width="2.5" stroke-linejoin="round" />
<rect x="568.00" y="345.50" width="5.00" height="5.00" fill="#1671ae" />
<rect x="569.50" y="334.50" width="5.00" height="5.00" fill="#1671ae" />
<rect x="571.20" y="333.00" width="5.00" height="5.00" fill="#1671ae" />
<rect x="572.00" y="340.50" width="5.00" height="5.00" fill="#1671ae" />
<rect x="573.50" y="332.50" width="5.00" height="5.00" fill="#1671ae" />
<rect x="575.00" y="338.50" width="5.00" height="5.00" fill="#1671ae" />
<rect x="576.50" y="331.00" width="5.00" height="5.00" fill="#1671ae" />
<rect x="578.20" y="330.30" width="5.00" height="5.00" fill="#1671ae" />
<rect x="589.00" y="328.00" width="5.00" height="5.00" fill="#1671ae" />
<polyline points="571.60,353.00 578.00,350.70 585.20,335.70 592.60,342.00 600.90,341.70 618.40,338.90 641.20,333.60 678.00,336.40" fill="none" stroke="#e9802f" stroke-width="2.5" stroke-linejoin="round" />
<rect x="569.10" y="350.50" width="5.00" height="5.00" fill="#e9802f" />
<rect x="575.50" y="348.20" width="5.00" height="5.00" fill="#e9802f" />
<rect x="582.70" y="333.20" width="5.00" height="5.00" fill="#e9802f" />
<rect x="590.10" y="339.50" width="5.00" height="5.00" fill="#e9802f" />
<rect x="598.40" y="339.20" width="5.00" height="5.00" fill="#e9802f" />
<rect x="615.90" y="336.40" width="5.00" height="5.00" fill="#e9802f" />
<rect x="638.70" y="331.10" width="5.00" height="5.00" fill="#e9802f" />
<rect x="675.50" y="333.90" width="5.00" height="5.00" fill="#e9802f" />
<polygon points="569.20,455.80 569.20,378.00 576.30,378.00 576.30,433.00 582.70,433.00 582.70,449.00 588.50,449.00 588.50,453.20 595.20,453.20 595.20,455.80" fill="#1f77b4" fill-opacity="0.6"/>
<polygon points="569.20,455.80 569.20,424.00 580.50,424.00 580.50,440.40 592.00,440.40 592.00,439.60 603.20,439.60 603.20,449.00 614.60,449.00 614.60,452.40 626.00,452.40 626.00,451.80 637.40,451.80 637.40,450.50 648.80,450.50 648.80,453.70 660.20,453.70 660.20,452.60 671.60,452.60 671.60,439.10 686.00,439.10 686.00,455.80" fill="#e67f2b" fill-opacity="0.6"/>
<line x1="569.20" y1="374.00" x2="569.20" y2="456.40" stroke="#121212" stroke-width="1.55" />
<line x1="568.60" y1="455.80" x2="685.00" y2="455.80" stroke="#121212" stroke-width="1.55" />
<line x1="563.50" y1="455.80" x2="569.20" y2="455.80" stroke="#121212" stroke-width="1.55" />
<text x="556.90" y="459.40" font-size="10" text-anchor="end" fill="#262626" >0</text>
<line x1="563.50" y1="416.30" x2="569.20" y2="416.30" stroke="#121212" stroke-width="1.55" />
<text x="556.90" y="419.90" font-size="10" text-anchor="end" fill="#262626" >200</text>
<line x1="563.50" y1="376.80" x2="569.20" y2="376.80" stroke="#121212" stroke-width="1.55" />
<text x="556.90" y="380.40" font-size="10" text-anchor="end" fill="#262626" >400</text>
<line x1="569.40" y1="455.80" x2="569.40" y2="461.50" stroke="#121212" stroke-width="1.55" />
<text x="569.40" y="475.70" font-size="10" text-anchor="middle" fill="#262626" >0.0</text>
<line x1="614.30" y1="455.80" x2="614.30" y2="461.50" stroke="#121212" stroke-width="1.55" />
<text x="614.30" y="475.70" font-size="10" text-anchor="middle" fill="#262626" >0.2</text>
<line x1="659.90" y1="455.80" x2="659.90" y2="461.50" stroke="#121212" stroke-width="1.55" />
<text x="659.90" y="475.70" font-size="10" text-anchor="middle" fill="#262626" >0.4</text>
<text transform="translate(532.80,416.00) rotate(-90)" x="0" y="0" font-size="10" text-anchor="middle" fill="#262626">Count</text>
<text x="626.20" y="491.50" font-size="10" text-anchor="middle" fill="#262626" >Score</text>
</svg>
</body></html>
